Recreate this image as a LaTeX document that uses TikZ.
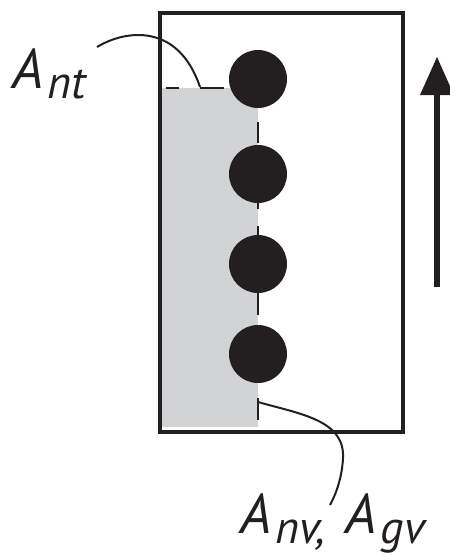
\documentclass[tikz,border=0pt]{standalone}
\usepackage{fontspec}
\setmainfont{PT Sans}
\definecolor{ink}{HTML}{231F20}
\definecolor{greyfill}{HTML}{D1D3D4}
\tikzset{
  ball/.style={circle, fill=ink, inner sep=0pt, minimum size=58pt},
  frameline/.style={draw=ink, line width=4.2pt},
  divline/.style={draw=ink, line width=2.6pt},
  leader/.style={draw=ink, line width=2pt},
  lab/.style={inner sep=0pt, text=ink, font=\itshape},
}
\newcommand{\LabMain}[1]{{\fontsize{56}{60}\selectfont #1}}
\newcommand{\LabSub}[1]{\hspace{4pt}\raisebox{-10pt}{\fontsize{46}{50}\selectfont #1}}
\begin{document}
\begin{tikzpicture}[x=1pt, y=-1pt]
\useasboundingbox (0,0) rectangle (450,555);
% shaded region
\fill[greyfill] (160,88) rectangle (258,427);
% frame
\draw[frameline] (160,13) rectangle (403,432);
% dashed boundary
\draw[divline] (166,88) -- (179,88) (200,88) -- (224,88);
\draw[divline] (258,122) -- (258,143)
               (258,202) -- (258,209)
               (258,226) -- (258,236)
               (258,292) -- (258,315)
               (258,398) -- (258,420);
% particles
\node[ball] (c1) at (258,79) {};
\node[ball] (c2) at (258,174) {};
\node[ball] (c3) at (258,264) {};
\node[ball] (c4) at (258,354) {};
% labels
\node[lab, anchor=base west] (ant) at (12,88) {\LabMain{A}\LabSub{nt}};
\node[lab, anchor=base west] (anv) at (240,533) {\LabMain{A}\LabSub{nv,}\hspace{20pt}\LabMain{A}\LabSub{gv}};
% leaders
\coordinate (p1) at (97,47);
\coordinate (q1) at (200,87);
\draw[leader] (p1) .. controls (125,30) and (178,22) .. (q1);
\coordinate (p2) at (258,402);
\coordinate (q2) at (330,505);
\draw[leader] (p2) .. controls (300,414) and (345,420) .. (343,458)
              .. controls (342,478) and (336,494) .. (q2);
% motion arrow
\coordinate (a0) at (437,287);
\coordinate (a1) at (437,92);
\coordinate (tip) at (437,57);
\draw[ink, line width=6pt] (a0) -- (a1);
\fill[ink] (420,95) -- (tip) -- (454,95) -- cycle;
\end{tikzpicture}
\end{document}
